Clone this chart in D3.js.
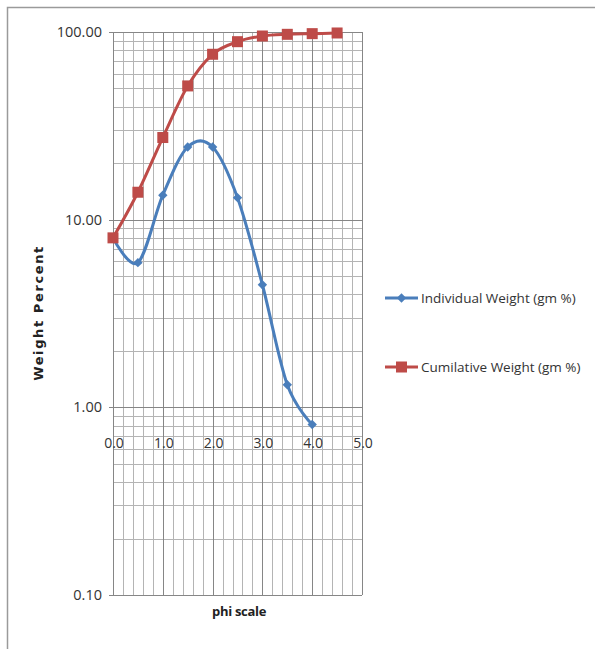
<!doctype html>
<html>
<head>
    <title>phi scale chart</title>
    <script src="https://d3js.org/d3.v7.min.js"></script>
</head>
<style>
    body { margin: 0; background: #fff; }
    .ytick-label { font: 14.5px 'Open Sans', sans-serif; fill: #333; }
    .xtick-label { font: 14px 'Open Sans', sans-serif; fill: #333; }
    .legend-label { font: 13.5px 'Open Sans', sans-serif; fill: #333; }
</style>
<body>
<script>

// chart data
var phi = [0.0, 0.5, 1.0, 1.5, 2.0, 2.5, 3.0, 3.5, 4.0, 4.5];
var individual = [8.0, 5.9, 13.5, 24.4, 24.4, 13.1, 4.5, 1.32, 0.81];
var cumulative = [8.0, 14.0, 27.4, 51.6, 76.1, 88.8, 95.2, 97.2, 98.0, 98.8];
var yTicks = [0.1, 1, 10, 100];
var xTicks = [0, 1, 2, 3, 4, 5];
var seriesNames = ['Individual Weight (gm %)', 'Cumilative Weight (gm %)'];

var width = 595, height = 649;
var blue = '#4a7ebb', red = '#be4b48';

var svg = d3.select('body').append('svg')
    .attr('width', width)
    .attr('height', height);

// outer frame (top and left edges visible)
svg.append('path')
    .attr('d', 'M7.5,' + height + 'V7.5H' + width)
    .attr('fill', 'none')
    .attr('stroke', '#9a9a9a')
    .attr('stroke-width', 1.5);

// scales
var xScale = d3.scaleLinear().domain([0, 5]).range([113, 362]);
var yScale = d3.scaleLog().domain([0.1, 100]).range([595, 32]);

// minor grid lines
var vMinor = d3.range(0, 25).map(function(i) { return i * 0.2; }).filter(function(v, i) { return i % 5 !== 0; });
var hMinor = [];
[0.1, 1, 10].forEach(function(d) {
    for (var k = 2; k <= 9; k++) hMinor.push(d * k);
});

var grid = svg.append('g');
grid.selectAll('.vminor').data(vMinor).enter().append('line')
    .attr('x1', function(d) { return Math.round(xScale(d)) + 0.5; })
    .attr('x2', function(d) { return Math.round(xScale(d)) + 0.5; })
    .attr('y1', yScale(100)).attr('y2', yScale(0.1))
    .attr('stroke', '#b4b4b4');
grid.selectAll('.hminor').data(hMinor).enter().append('line')
    .attr('x1', xScale(0)).attr('x2', xScale(5))
    .attr('y1', function(d) { return Math.round(yScale(d)) + 0.5; })
    .attr('y2', function(d) { return Math.round(yScale(d)) + 0.5; })
    .attr('stroke', '#b4b4b4');

// major grid lines
grid.selectAll('.vmajor').data(xTicks).enter().append('line')
    .attr('x1', function(d) { return Math.round(xScale(d)) + 0.5; })
    .attr('x2', function(d) { return Math.round(xScale(d)) + 0.5; })
    .attr('y1', yScale(100)).attr('y2', yScale(0.1))
    .attr('stroke', '#868686');
grid.selectAll('.hmajor').data(yTicks).enter().append('line')
    .attr('x1', xScale(0) - 4).attr('x2', xScale(5))
    .attr('y1', function(d) { return Math.round(yScale(d)) + 0.5; })
    .attr('y2', function(d) { return Math.round(yScale(d)) + 0.5; })
    .attr('stroke', '#868686');

// y tick labels
svg.selectAll('.ylab').data(yTicks).enter().append('text')
    .attr('class', 'ytick-label')
    .attr('x', 102)
    .attr('y', function(d) { return yScale(d); })
    .attr('dy', '0.35em')
    .attr('text-anchor', 'end')
    .text(function(d) { return d3.format('.2f')(d); });

// x tick labels (sit inside the plot, below 1.00)
svg.selectAll('.xlab').data(xTicks).enter().append('text')
    .attr('class', 'xtick-label')
    .attr('x', function(d) { return xScale(d) + 1; })
    .attr('y', 443)
    .attr('dy', '0.35em')
    .attr('text-anchor', 'middle')
    .text(function(d) { return d3.format('.1f')(d); });

// axis titles
svg.append('text')
    .attr('x', 239)
    .attr('y', 611)
    .attr('dy', '0.35em')
    .attr('text-anchor', 'middle')
    .style('font', 'bold 13px "Open Sans", sans-serif')
    .style('letter-spacing', '-0.3px')
    .attr('fill', '#222')
    .text('phi scale');

svg.append('text')
    .attr('transform', 'translate(38, 313) rotate(-90)')
    .attr('dy', '0.35em')
    .attr('text-anchor', 'middle')
    .style('font', 'bold 13px "DejaVu Sans", sans-serif')
    .style('letter-spacing', '1.6px')
    .attr('fill', '#222')
    .text('Weight Percent');

// lines
var line = d3.line()
    .x(function(d) { return xScale(d[0]); })
    .y(function(d) { return yScale(d[1]); })
    .curve(d3.curveCardinal.tension(0));

var indData = individual.map(function(v, i) { return [phi[i], v]; });
var cumData = cumulative.map(function(v, i) { return [phi[i], v]; });

svg.append('path')
    .datum(indData)
    .attr('d', line)
    .attr('fill', 'none')
    .attr('stroke', blue)
    .attr('stroke-width', 3);

svg.append('path')
    .datum(cumData)
    .attr('d', line)
    .attr('fill', 'none')
    .attr('stroke', red)
    .attr('stroke-width', 3);

// markers
var diamond = d3.symbol().type(d3.symbolSquare).size(44);
svg.selectAll('.dia').data(indData).enter().append('path')
    .attr('d', diamond)
    .attr('transform', function(d) { return 'translate(' + xScale(d[0]) + ',' + yScale(d[1]) + ') rotate(45)'; })
    .attr('fill', blue);

svg.selectAll('.sq').data(cumData).enter().append('rect')
    .attr('x', function(d) { return xScale(d[0]) - 5.5; })
    .attr('y', function(d) { return yScale(d[1]) - 5.5; })
    .attr('width', 11)
    .attr('height', 11)
    .attr('fill', red);

// legend
var legend = svg.append('g');
var legendY = [298, 367];
var legendColors = [blue, red];

seriesNames.forEach(function(name, i) {
    var g = legend.append('g').attr('transform', 'translate(0,' + legendY[i] + ')');
    g.append('line')
        .attr('x1', 385).attr('x2', 418)
        .attr('stroke', legendColors[i])
        .attr('stroke-width', 3);
    if (i === 0) {
        g.append('path')
            .attr('d', diamond)
            .attr('transform', 'translate(401.5,0) rotate(45)')
            .attr('fill', blue);
    } else {
        g.append('rect')
            .attr('x', 396).attr('y', -5.5)
            .attr('width', 11).attr('height', 11)
            .attr('fill', red);
    }
    g.append('text')
        .attr('class', 'legend-label')
        .attr('x', 421)
        .attr('dy', '0.35em')
        .text(name);
});

</script>
</body>
</html>
